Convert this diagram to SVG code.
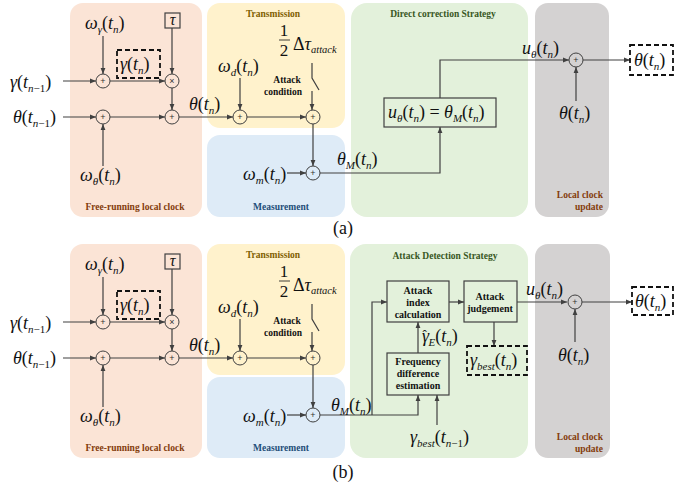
<svg xmlns="http://www.w3.org/2000/svg" width="697" height="487" viewBox="0 0 697 487">
<defs>
<style>
.m{font-family:'Liberation Serif','Times New Roman',Times,'DejaVu Serif','Noto Serif',serif;font-size:18px;font-style:italic;fill:#111}
.u{font-style:normal}
.sb{font-size:11px}
.t{font-family:'Liberation Serif','Times New Roman',Times,'DejaVu Serif',serif;font-size:9.5px;font-weight:bold;text-anchor:middle}
.bt{font-family:'Liberation Serif','Times New Roman',Times,'DejaVu Serif',serif;font-size:10px;font-weight:bold;fill:#111;text-anchor:middle}
.op{font-family:'Liberation Sans',Arial,sans-serif;font-size:9px;fill:#333;text-anchor:middle}
.c{fill:none;stroke:#404040;stroke-width:1}
.ln{fill:none;stroke:#404040;stroke-width:1.2}
.ar{marker-end:url(#ah)}
.box{fill:none;stroke:#404040;stroke-width:1.2}
.dash{fill:none;stroke:#111;stroke-width:1.8;stroke-dasharray:5,3}
.cap{font-family:'Liberation Serif','Times New Roman',Times,'DejaVu Serif',serif;font-size:18px;fill:#111;text-anchor:middle}
</style>
<marker id="ah" markerUnits="userSpaceOnUse" markerWidth="6" markerHeight="6" refX="6" refY="3" orient="auto"><path d="M0,0.6 L6,3 L0,5.4 z" fill="#404040"/></marker>
</defs>
<rect width="697" height="487" fill="#ffffff"/>

<g id="regions">
<rect x="70" y="3" width="132" height="214" rx="13" fill="#fbe4d6"/>
<rect x="207" y="3" width="138" height="125" rx="13" fill="#fff2cc"/>
<rect x="207" y="135" width="138" height="82" rx="13" fill="#deebf7"/>
<rect x="351" y="3" width="177" height="214" rx="16" fill="#e3f1db"/>
<rect x="535" y="3" width="74" height="214" rx="13" fill="#d4d2d2"/>
<rect x="70" y="244" width="132" height="214" rx="13" fill="#fbe4d6"/>
<rect x="207" y="244" width="138" height="131" rx="13" fill="#fff2cc"/>
<rect x="207" y="377" width="138" height="81" rx="13" fill="#deebf7"/>
<rect x="350" y="244" width="178" height="214" rx="16" fill="#e3f1db"/>
<rect x="535" y="244" width="75" height="214" rx="13" fill="#d4d2d2"/>
</g>

<g id="region-titles">
<text class="t" x="135" y="210" fill="#843c0c">Free-running local clock</text>
<text class="t" x="273" y="17" fill="#7f6000">Transmission</text>
<text class="t" x="281" y="210" fill="#1f4e79">Measurement</text>
<text class="t" x="443" y="17" fill="#385723">Direct correction Strategy</text>
<text class="t" x="603" y="198" fill="#843c0c" style="text-anchor:end">Local clock</text>
<text class="t" x="603" y="210" fill="#843c0c" style="text-anchor:end">update</text>
<text class="t" x="135" y="451" fill="#843c0c">Free-running local clock</text>
<text class="t" x="273" y="258" fill="#7f6000">Transmission</text>
<text class="t" x="281" y="451" fill="#1f4e79">Measurement</text>
<text class="t" x="445" y="259" fill="#385723">Attack Detection Strategy</text>
<text class="t" x="603" y="440" fill="#843c0c" style="text-anchor:end">Local clock</text>
<text class="t" x="603" y="452" fill="#843c0c" style="text-anchor:end">update</text>
</g>

<!-- ===== Panel (a) ===== -->
<g id="connectors-a">
<path class="ln ar" d="M63 81 H96"/>
<path class="ln ar" d="M63 117 H96"/>
<path class="ln ar" d="M103 36 V74"/>
<path class="ln ar" d="M103 166 V124"/>
<path class="ln ar" d="M110 81 H165"/>
<path class="ln ar" d="M110 117 H165"/>
<path class="ln ar" d="M172 28 V74"/>
<path class="ln ar" d="M172 88 V110"/>
<path class="ln ar" d="M179 117 H233"/>
<path class="ln ar" d="M240 78 V110"/>
<path class="ln ar" d="M247 117 H306"/>
<path class="ln" d="M312 63 V78 L319 90"/>
<path class="ln ar" d="M312 91 V110"/>
<path class="ln ar" d="M313 124 V166"/>
<path class="ln ar" d="M287 173 H306"/>
<path class="ln ar" d="M320 173 H440 V127"/>
<path class="ln ar" d="M440 98 V60 H569"/>
<path class="ln ar" d="M576 101 V67"/>
<path class="ln ar" d="M583 60 H630"/>
</g>

<g id="a-sum1"><circle class="c" cx="103" cy="81" r="7"/><text class="op" x="103" y="84">+</text></g>
<g id="a-mul"><circle class="c" cx="172" cy="81" r="7"/><text class="op" x="172" y="84">×</text></g>
<g id="a-sum2"><circle class="c" cx="103" cy="117" r="7"/><text class="op" x="103" y="120">+</text></g>
<g id="a-sum3"><circle class="c" cx="172" cy="117" r="7"/><text class="op" x="172" y="120">+</text></g>
<g id="a-sum4"><circle class="c" cx="240" cy="117" r="7"/><text class="op" x="240" y="120">+</text></g>
<g id="a-sum5"><circle class="c" cx="313" cy="117" r="7"/><text class="op" x="313" y="120">+</text></g>
<g id="a-sum6"><circle class="c" cx="313" cy="173" r="7"/><text class="op" x="313" y="176">+</text></g>
<g id="a-sum7"><circle class="c" cx="576" cy="60" r="7"/><text class="op" x="576" y="63">+</text></g>

<g id="a-omega-gamma"><text class="m" x="85" y="29">ω<tspan class="sb" dy="4">γ</tspan><tspan class="u" dy="-4">(</tspan>t<tspan class="sb" dy="4">n</tspan><tspan class="u" dy="-4">)</tspan></text></g>
<g id="a-tau"><rect class="box" x="165" y="13" width="15" height="15" stroke-width="1"/><text class="m" x="172.5" y="25" style="text-anchor:middle;font-size:16px">τ</text></g>
<g id="a-gamma-n"><rect class="dash" x="117" y="50" width="43" height="28"/><text class="m" x="120" y="70">γ<tspan class="u">(</tspan>t<tspan class="sb" dy="4">n</tspan><tspan class="u" dy="-4">)</tspan></text></g>
<g id="a-gamma-prev"><text class="m" x="10" y="88">γ<tspan class="u">(</tspan>t<tspan class="sb" dy="4">n<tspan class="u">−1</tspan></tspan><tspan class="u" dy="-4">)</tspan></text></g>
<g id="a-theta-prev"><text class="m" x="13" y="123">θ<tspan class="u">(</tspan>t<tspan class="sb" dy="4">n<tspan class="u">−1</tspan></tspan><tspan class="u" dy="-4">)</tspan></text></g>
<g id="a-omega-theta"><text class="m" x="80" y="181">ω<tspan class="sb" dy="4">θ</tspan><tspan class="u" dy="-4">(</tspan>t<tspan class="sb" dy="4">n</tspan><tspan class="u" dy="-4">)</tspan></text></g>
<g id="a-theta-n"><text class="m" x="189" y="110">θ<tspan class="u">(</tspan>t<tspan class="sb" dy="4">n</tspan><tspan class="u" dy="-4">)</tspan></text></g>
<g id="a-delta-tau">
<text class="m u" x="284" y="36" style="text-anchor:middle;font-size:17px">1</text>
<line x1="279" y1="40" x2="290" y2="40" stroke="#111" stroke-width="0.8"/>
<text class="m u" x="284" y="56" style="text-anchor:middle;font-size:17px">2</text>
<text class="m" x="293" y="50"><tspan class="u">Δ</tspan>τ<tspan class="sb" dy="3" style="font-size:10.5px">attack</tspan></text>
</g>
<g id="a-omega-d"><text class="m" x="218" y="72">ω<tspan class="sb" dy="4">d</tspan><tspan class="u" dy="-4">(</tspan>t<tspan class="sb" dy="4">n</tspan><tspan class="u" dy="-4">)</tspan></text></g>
<g id="a-attack-cond"><text class="bt" x="287" y="83" style="font-size:9.5px">Attack</text><text class="bt" x="283" y="95" style="font-size:9.5px">condition</text></g>
<g id="a-omega-m"><text class="m" x="243" y="180">ω<tspan class="sb" dy="4">m</tspan><tspan class="u" dy="-4">(</tspan>t<tspan class="sb" dy="4">n</tspan><tspan class="u" dy="-4">)</tspan></text></g>
<g id="a-theta-M"><text class="m" x="337" y="165">θ<tspan class="sb" dy="4">M</tspan><tspan class="u" dy="-4">(</tspan>t<tspan class="sb" dy="4">n</tspan><tspan class="u" dy="-4">)</tspan></text></g>
<g id="a-direct-box"><rect class="box" x="384" y="98" width="112" height="29"/><text class="m" x="388" y="118">u<tspan class="sb" dy="4">θ</tspan><tspan class="u" dy="-4">(</tspan>t<tspan class="sb" dy="4">n</tspan><tspan class="u" dy="-4">) = </tspan>θ<tspan class="sb" dy="4">M</tspan><tspan class="u" dy="-4">(</tspan>t<tspan class="sb" dy="4">n</tspan><tspan class="u" dy="-4">)</tspan></text></g>
<g id="a-u-theta"><text class="m" x="522" y="54">u<tspan class="sb" dy="4">θ</tspan><tspan class="u" dy="-4">(</tspan>t<tspan class="sb" dy="4">n</tspan><tspan class="u" dy="-4">)</tspan></text></g>
<g id="a-theta-in"><text class="m" x="559" y="119">θ<tspan class="u">(</tspan>t<tspan class="sb" dy="4">n</tspan><tspan class="u" dy="-4">)</tspan></text></g>
<g id="a-theta-out"><rect class="dash" x="630" y="45" width="43" height="30"/><text class="m" x="634" y="66">θ<tspan class="u">(</tspan>t<tspan class="sb" dy="4">n</tspan><tspan class="u" dy="-4">)</tspan></text></g>
<text class="cap" x="343" y="234">(a)</text>

<!-- ===== Panel (b) ===== -->
<g id="connectors-b">
<path class="ln ar" d="M63 322 H96"/>
<path class="ln ar" d="M63 358 H96"/>
<path class="ln ar" d="M103 277 V315"/>
<path class="ln ar" d="M103 407 V365"/>
<path class="ln ar" d="M110 322 H165"/>
<path class="ln ar" d="M110 358 H165"/>
<path class="ln ar" d="M172 269 V315"/>
<path class="ln ar" d="M172 329 V351"/>
<path class="ln ar" d="M179 358 H233"/>
<path class="ln ar" d="M240 319 V351"/>
<path class="ln ar" d="M247 358 H306"/>
<path class="ln" d="M312 304 V319 L319 331"/>
<path class="ln ar" d="M312 332 V351"/>
<path class="ln ar" d="M313 365 V408"/>
<path class="ln ar" d="M287 415 H306"/>
<path class="ln ar" d="M320 415 H418 V395"/>
<path class="ln ar" d="M372 415 V302 H387"/>
<path class="ln ar" d="M437 425 V395"/>
<path class="ln ar" d="M418 353 V322"/>
<path class="ln ar" d="M449 302 H464"/>
<path class="ln ar" d="M494 322 V346"/>
<path class="ln ar" d="M517 302 H567"/>
<path class="ln ar" d="M575 342 V309"/>
<path class="ln ar" d="M582 302 H632"/>
</g>

<g id="b-sum1"><circle class="c" cx="103" cy="322" r="7"/><text class="op" x="103" y="325">+</text></g>
<g id="b-mul"><circle class="c" cx="172" cy="322" r="7"/><text class="op" x="172" y="325">×</text></g>
<g id="b-sum2"><circle class="c" cx="103" cy="358" r="7"/><text class="op" x="103" y="361">+</text></g>
<g id="b-sum3"><circle class="c" cx="172" cy="358" r="7"/><text class="op" x="172" y="361">+</text></g>
<g id="b-sum4"><circle class="c" cx="240" cy="358" r="7"/><text class="op" x="240" y="361">+</text></g>
<g id="b-sum5"><circle class="c" cx="313" cy="358" r="7"/><text class="op" x="313" y="361">+</text></g>
<g id="b-sum6"><circle class="c" cx="313" cy="415" r="7"/><text class="op" x="313" y="418">+</text></g>
<g id="b-sum7"><circle class="c" cx="575" cy="302" r="7"/><text class="op" x="575" y="305">+</text></g>

<g id="b-omega-gamma"><text class="m" x="85" y="270">ω<tspan class="sb" dy="4">γ</tspan><tspan class="u" dy="-4">(</tspan>t<tspan class="sb" dy="4">n</tspan><tspan class="u" dy="-4">)</tspan></text></g>
<g id="b-tau"><rect class="box" x="165" y="254" width="15" height="15" stroke-width="1"/><text class="m" x="172.5" y="266" style="text-anchor:middle;font-size:16px">τ</text></g>
<g id="b-gamma-n"><rect class="dash" x="117" y="291" width="43" height="28"/><text class="m" x="120" y="311">γ<tspan class="u">(</tspan>t<tspan class="sb" dy="4">n</tspan><tspan class="u" dy="-4">)</tspan></text></g>
<g id="b-gamma-prev"><text class="m" x="10" y="329">γ<tspan class="u">(</tspan>t<tspan class="sb" dy="4">n<tspan class="u">−1</tspan></tspan><tspan class="u" dy="-4">)</tspan></text></g>
<g id="b-theta-prev"><text class="m" x="13" y="364">θ<tspan class="u">(</tspan>t<tspan class="sb" dy="4">n<tspan class="u">−1</tspan></tspan><tspan class="u" dy="-4">)</tspan></text></g>
<g id="b-omega-theta"><text class="m" x="80" y="422">ω<tspan class="sb" dy="4">θ</tspan><tspan class="u" dy="-4">(</tspan>t<tspan class="sb" dy="4">n</tspan><tspan class="u" dy="-4">)</tspan></text></g>
<g id="b-theta-n"><text class="m" x="189" y="351">θ<tspan class="u">(</tspan>t<tspan class="sb" dy="4">n</tspan><tspan class="u" dy="-4">)</tspan></text></g>
<g id="b-delta-tau">
<text class="m u" x="284" y="277" style="text-anchor:middle;font-size:17px">1</text>
<line x1="279" y1="281" x2="290" y2="281" stroke="#111" stroke-width="0.8"/>
<text class="m u" x="284" y="297" style="text-anchor:middle;font-size:17px">2</text>
<text class="m" x="293" y="291"><tspan class="u">Δ</tspan>τ<tspan class="sb" dy="3" style="font-size:10.5px">attack</tspan></text>
</g>
<g id="b-omega-d"><text class="m" x="218" y="313">ω<tspan class="sb" dy="4">d</tspan><tspan class="u" dy="-4">(</tspan>t<tspan class="sb" dy="4">n</tspan><tspan class="u" dy="-4">)</tspan></text></g>
<g id="b-attack-cond"><text class="bt" x="287" y="324" style="font-size:9.5px">Attack</text><text class="bt" x="283" y="336" style="font-size:9.5px">condition</text></g>
<g id="b-omega-m"><text class="m" x="243" y="422">ω<tspan class="sb" dy="4">m</tspan><tspan class="u" dy="-4">(</tspan>t<tspan class="sb" dy="4">n</tspan><tspan class="u" dy="-4">)</tspan></text></g>
<g id="b-theta-M"><text class="m" x="331" y="411">θ<tspan class="sb" dy="4">M</tspan><tspan class="u" dy="-4">(</tspan>t<tspan class="sb" dy="4">n</tspan><tspan class="u" dy="-4">)</tspan></text></g>
<g id="b-attack-index"><rect class="box" x="387" y="281" width="62" height="41"/><text class="bt" x="418" y="294">Attack</text><text class="bt" x="418" y="306">index</text><text class="bt" x="418" y="318">calculation</text></g>
<g id="b-attack-judge"><rect class="box" x="464" y="281" width="53" height="41"/><text class="bt" x="490" y="300">Attack</text><text class="bt" x="490" y="312">judgement</text></g>
<g id="b-freq-diff"><rect class="box" x="387" y="353" width="62" height="42"/><text class="bt" x="418" y="365">Frequency</text><text class="bt" x="418" y="377">difference</text><text class="bt" x="418" y="389">estimation</text></g>
<g id="b-gamma-E"><text class="m" x="422" y="342">γ<tspan class="u" dx="-6.5" dy="-3" style="font-size:13px">ˆ</tspan><tspan class="sb" dx="1.5" dy="7">E</tspan><tspan class="u" dy="-4">(</tspan>t<tspan class="sb" dy="4">n</tspan><tspan class="u" dy="-4">)</tspan></text></g>
<g id="b-gamma-best"><rect class="dash" x="467" y="346" width="60" height="29"/><text class="m" x="470" y="366">γ<tspan class="sb" dy="4">best</tspan><tspan class="u" dy="-4">(</tspan>t<tspan class="sb" dy="4">n</tspan><tspan class="u" dy="-4">)</tspan></text></g>
<g id="b-gamma-best-prev"><text class="m" x="410" y="443">γ<tspan class="sb" dy="4">best</tspan><tspan class="u" dy="-4">(</tspan>t<tspan class="sb" dy="4">n<tspan class="u">−1</tspan></tspan><tspan class="u" dy="-4">)</tspan></text></g>
<g id="b-u-theta"><text class="m" x="526" y="295">u<tspan class="sb" dy="4">θ</tspan><tspan class="u" dy="-4">(</tspan>t<tspan class="sb" dy="4">n</tspan><tspan class="u" dy="-4">)</tspan></text></g>
<g id="b-theta-in"><text class="m" x="558" y="361">θ<tspan class="u">(</tspan>t<tspan class="sb" dy="4">n</tspan><tspan class="u" dy="-4">)</tspan></text></g>
<g id="b-theta-out"><rect class="dash" x="632" y="287" width="41" height="28"/><text class="m" x="635" y="307">θ<tspan class="u">(</tspan>t<tspan class="sb" dy="4">n</tspan><tspan class="u" dy="-4">)</tspan></text></g>
<text class="cap" x="343" y="478">(b)</text>
</svg>
